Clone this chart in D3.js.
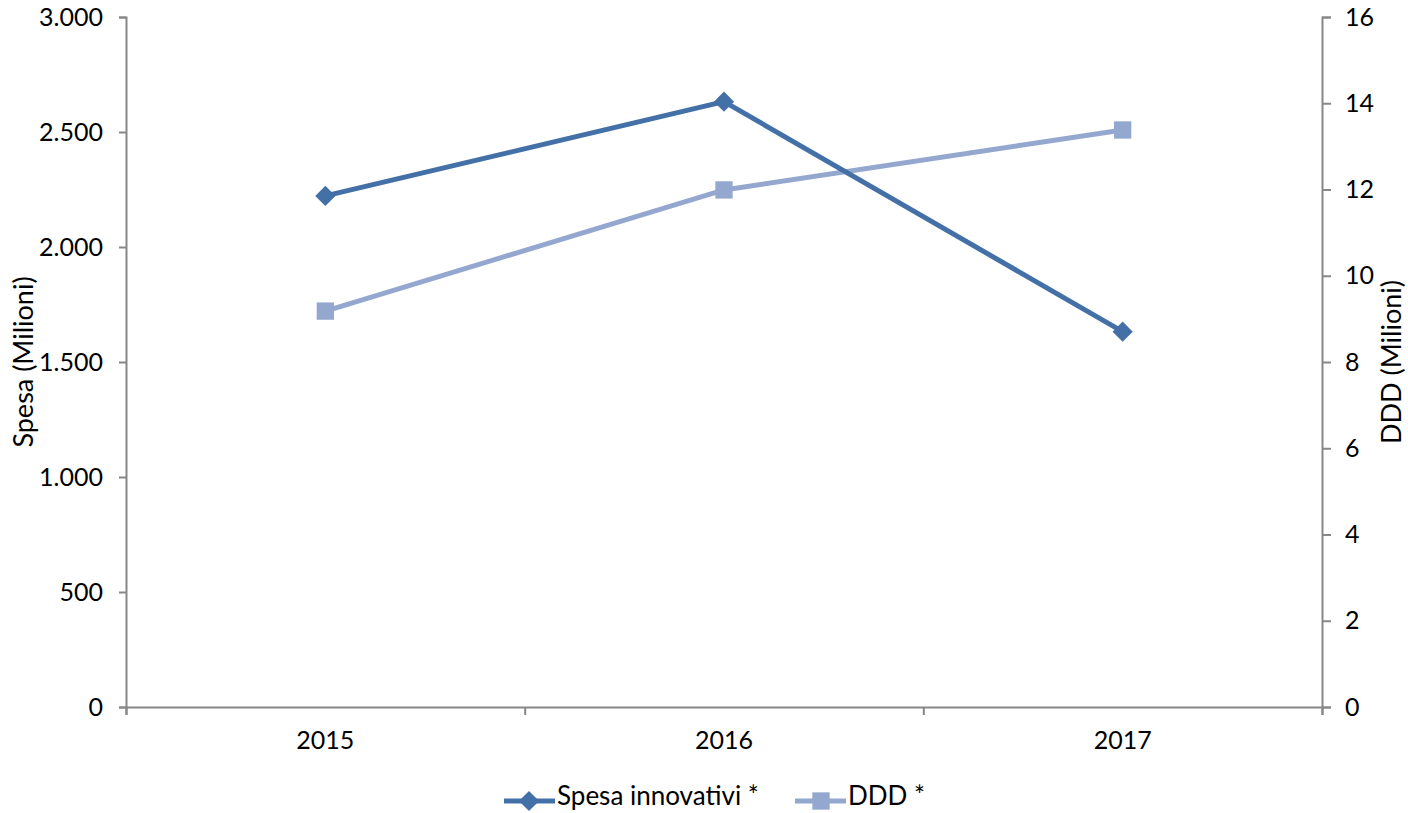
<!DOCTYPE html>
<html>
<head>
<meta charset="utf-8">
<script src="https://cdn.jsdelivr.net/npm/d3@7"></script>
<style>
  body { margin: 0; background: #fff; }
  text { font-family: Lato, "Open Sans", sans-serif; fill: #000; }
</style>
</head>
<body>
<svg id="grafico" width="1408" height="813"></svg>
<script>
// dati
var anni = ["2015", "2016", "2017"];
var spesa = [2222, 2632, 1632];      // Spesa (Milioni)
var ddd = [9.18, 11.99, 13.38];      // DDD (Milioni)
var ticksSinistra = [0, 500, 1000, 1500, 2000, 2500, 3000];
var ticksDestra = [0, 2, 4, 6, 8, 10, 12, 14, 16];

var margins = { top: 17, right: 86, bottom: 106, left: 126 };
var width = 1408, height = 813;

var colSpesa = "#4470a8";
var colDdd = "#94a8cf";
var colAsse = "#878787";

var svg = d3.select("#grafico");

var it = d3.formatLocale({ decimal: ",", thousands: ".", grouping: [3], currency: ["€", ""] });
var fmt = it.format(",");

// scale
var x = d3.scaleBand().domain(anni).range([margins.left, width - margins.right]);
var xBordi = d3.scaleLinear().domain([0, anni.length]).range([margins.left, width - margins.right]);
var ySx = d3.scaleLinear().domain([0, 3000]).range([height - margins.bottom, margins.top]);
var yDx = d3.scaleLinear().domain([0, 16]).range([height - margins.bottom, margins.top]);

// asse sinistro
var gSx = svg.append("g")
    .attr("transform", "translate(" + margins.left + ",0)")
    .call(d3.axisLeft(ySx).tickValues(ticksSinistra).tickFormat(fmt).tickSize(7).tickPadding(16));

// asse destro
var gDx = svg.append("g")
    .attr("transform", "translate(" + (width - margins.right) + ",0)")
    .call(d3.axisRight(yDx).tickValues(ticksDestra).tickSize(9).tickPadding(14));

// asse X: tacche ai bordi delle categorie
var gX = svg.append("g")
    .attr("transform", "translate(0," + (height - margins.bottom) + ")")
    .call(d3.axisBottom(xBordi).tickValues(d3.range(anni.length + 1)).tickFormat("").tickSize(8));

var gXlab = svg.append("g")
    .attr("transform", "translate(0," + (height - margins.bottom) + ")")
    .call(d3.axisBottom(x).tickSize(0).tickPadding(24));
gXlab.select(".domain").remove();

[gSx, gDx, gX].forEach(function (g) {
    g.select(".domain").attr("stroke", colAsse).attr("stroke-width", 2);
    g.selectAll(".tick line").attr("stroke", colAsse).attr("stroke-width", 2);
});
[gSx, gDx, gXlab].forEach(function (g) {
    g.selectAll(".tick text").style("font-size", "25px").style("font-family", "Lato, sans-serif").attr("fill", "#000");
});

// titoli assi
svg.append("text")
    .attr("transform", "translate(33," + ((margins.top + height - margins.bottom) / 2) + ") rotate(-90)")
    .style("text-anchor", "middle")
    .style("font-size", "27px")
    .text("Spesa (Milioni)");

svg.append("text")
    .attr("transform", "translate(1401," + ((margins.top + height - margins.bottom) / 2) + ") rotate(-90)")
    .style("text-anchor", "middle")
    .style("font-size", "27px")
    .text("DDD (Milioni)");

var cx = function (d, i) { return x(anni[i]) + x.bandwidth() / 2; };

// linea DDD
var lineaDdd = d3.line().x(cx).y(function (d) { return yDx(d); });
svg.append("path")
    .attr("d", lineaDdd(ddd))
    .attr("fill", "none")
    .attr("stroke", colDdd)
    .attr("stroke-width", 5);

// linea Spesa
var lineaSpesa = d3.line().x(cx).y(function (d) { return ySx(d); });
svg.append("path")
    .attr("d", lineaSpesa(spesa))
    .attr("fill", "none")
    .attr("stroke", colSpesa)
    .attr("stroke-width", 5);

// marcatori
var diamante = d3.symbol().type(d3.symbolDiamond2).size(260);
var quadrato = d3.symbol().type(d3.symbolSquare).size(300);

svg.selectAll(".punto-ddd")
    .data(ddd)
    .enter()
    .append("path")
    .attr("d", quadrato)
    .attr("fill", colDdd)
    .attr("transform", function (d, i) { return "translate(" + cx(d, i) + "," + yDx(d) + ")"; });

svg.selectAll(".punto-spesa")
    .data(spesa)
    .enter()
    .append("path")
    .attr("d", diamante)
    .attr("fill", colSpesa)
    .attr("transform", function (d, i) { return "translate(" + cx(d, i) + "," + ySx(d) + ")"; });

// legenda
var leg = svg.append("g").attr("transform", "translate(0,801)");
leg.append("line").attr("x1", 504).attr("x2", 555).attr("stroke", colSpesa).attr("stroke-width", 5);
leg.append("path").attr("d", diamante).attr("fill", colSpesa).attr("transform", "translate(529,0)");
leg.append("text").attr("x", 557).attr("y", 4).style("font-size", "26px").text("Spesa innovativi *");

leg.append("line").attr("x1", 795).attr("x2", 846).attr("stroke", colDdd).attr("stroke-width", 5);
leg.append("path").attr("d", quadrato).attr("fill", colDdd).attr("transform", "translate(821,0)");
leg.append("text").attr("x", 848).attr("y", 4).style("font-size", "26px").text("DDD *");
</script>
</body>
</html>
